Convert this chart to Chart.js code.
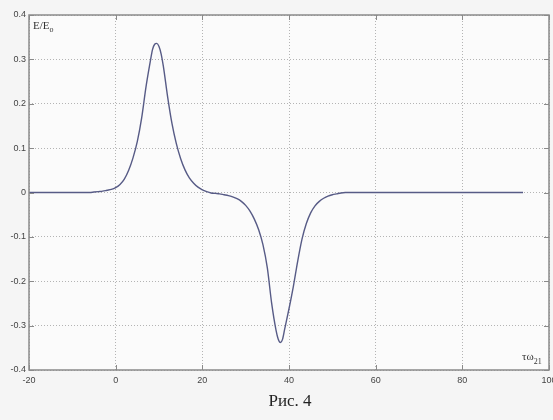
<!DOCTYPE html>
<html>
<head>
<meta charset="utf-8">
<script src="https://cdn.jsdelivr.net/npm/chart.js@4/dist/chart.umd.min.js"></script>
<style>
  html, body { margin: 0; padding: 0; background: #f5f5f5; }
  canvas { display: block; }
</style>
</head>
<body>
<canvas id="fig" width="553" height="420"></canvas>
<script>
// tau*omega21 values and field E/E0
const tau = [-20, -10, -6, -5, -4, -3, -2, -1, 0, 1, 2, 3, 4, 5, 6, 7, 8, 8.5, 9, 9.5, 10, 10.5, 11, 12, 13, 14, 15, 16, 17, 18, 19, 20, 21,
  22, 23, 24, 25, 26, 27, 28, 29, 30, 31, 32, 33, 34, 35, 36, 37, 37.5, 38, 38.5, 39, 40, 41, 42, 43, 44, 45, 46, 47, 48, 49, 50, 51, 52, 53, 60, 94];
const field = [0, 0, 0, 0.001, 0.002, 0.003, 0.005, 0.007, 0.011, 0.018, 0.030, 0.050, 0.078, 0.115, 0.168, 0.238, 0.296, 0.322, 0.334, 0.336, 0.329, 0.312, 0.285, 0.215, 0.155, 0.110, 0.076, 0.051, 0.033, 0.021, 0.012, 0.006, 0.002,
  -0.001, -0.002, -0.003, -0.005, -0.007, -0.010, -0.014, -0.020, -0.029, -0.042, -0.060, -0.084, -0.118, -0.170, -0.250, -0.310, -0.330, -0.338, -0.331, -0.308, -0.262, -0.212, -0.155, -0.105, -0.070, -0.046, -0.030, -0.020, -0.013, -0.008, -0.005, -0.003, -0.001, 0, 0, 0];

const xTicks = [-20, 0, 20, 40, 60, 80, 100];
const yTicks = [-0.4, -0.3, -0.2, -0.1, 0, 0.1, 0.2, 0.3, 0.4];

const points = tau.map((t, i) => ({ x: t, y: field[i] }));

// рамка, внутренние риски, подписи
const decor = {
  id: 'decor',
  beforeDraw(chart) {
    const { ctx, chartArea: a } = chart;
    ctx.save();
    ctx.fillStyle = '#f5f5f5';
    ctx.fillRect(0, 0, chart.width, chart.height);
    ctx.fillStyle = '#fbfbfb';
    ctx.fillRect(a.left, a.top, a.right - a.left, a.bottom - a.top);
    ctx.restore();
  },
  afterDraw(chart) {
    const { ctx, chartArea: a, scales } = chart;
    ctx.save();
    ctx.strokeStyle = '#8a8a8a';
    ctx.lineWidth = 1.5;
    ctx.strokeRect(a.left, a.top, a.right - a.left, a.bottom - a.top);
    ctx.lineWidth = 1;
    ctx.beginPath();
    xTicks.forEach(v => {
      const px = Math.round(scales.x.getPixelForValue(v)) + 0.5;
      ctx.moveTo(px, a.bottom); ctx.lineTo(px, a.bottom - 5);
      ctx.moveTo(px, a.top); ctx.lineTo(px, a.top + 5);
    });
    yTicks.forEach(v => {
      const py = Math.round(scales.y.getPixelForValue(v)) + 0.5;
      ctx.moveTo(a.left, py); ctx.lineTo(a.left + 5, py);
      ctx.moveTo(a.right, py); ctx.lineTo(a.right - 5, py);
    });
    ctx.stroke();

    ctx.fillStyle = '#333';
    ctx.textBaseline = 'alphabetic';
    ctx.font = '11px "Liberation Serif"';
    ctx.fillText('E/E', a.left + 4, a.top + 14);
    let w = ctx.measureText('E/E').width;
    ctx.font = '8px "Liberation Serif"';
    ctx.fillText('o', a.left + 4 + w, a.top + 17);

    ctx.font = '11px "Liberation Serif"';
    ctx.fillText('τω', a.right - 27, a.bottom - 10);
    w = ctx.measureText('τω').width;
    ctx.font = '8px "Liberation Serif"';
    ctx.fillText('21', a.right - 27 + w, a.bottom - 6);

    ctx.font = '17px "Liberation Serif"';
    ctx.fillStyle = '#222';
    ctx.textAlign = 'center';
    ctx.fillText('Рис. 4', 290, 406);
    ctx.restore();
  }
};

new Chart(document.getElementById('fig'), {
  type: 'line',
  data: {
    datasets: [{
      data: points,
      borderColor: '#575b86',
      borderWidth: 1.4,
      pointRadius: 0,
      cubicInterpolationMode: 'monotone',
      fill: false
    }]
  },
  options: {
    responsive: false,
    animation: false,
    maintainAspectRatio: false,
    layout: { padding: { top: 15, right: 4, left: 0, bottom: 0 } },
    plugins: { legend: { display: false }, tooltip: { enabled: false } },
    scales: {
      x: {
        type: 'linear', min: -20, max: 100,
        afterBuildTicks: s => { s.ticks = xTicks.map(v => ({ value: v })); },
        afterFit: s => { s.height = 50; s.paddingLeft = 0; s.paddingRight = 0; },
        grid: { color: '#b4b4b4', drawTicks: false },
        border: { display: false, dash: [1, 2] },
        ticks: { autoSkip: false, maxRotation: 0, padding: 5, color: '#444', font: { family: 'Liberation Sans', size: 9 } }
      },
      y: {
        min: -0.4, max: 0.4,
        afterBuildTicks: s => { s.ticks = yTicks.map(v => ({ value: v })); },
        afterFit: s => { s.width = 29; s.paddingTop = 0; s.paddingBottom = 0; },
        grid: { color: '#b4b4b4', drawTicks: false },
        border: { display: false, dash: [1, 2] },
        ticks: { autoSkip: false, padding: 3, color: '#444', font: { family: 'Liberation Sans', size: 9 },
          callback: v => (Math.abs(v) < 1e-9 ? '0' : String(Math.round(v * 10) / 10)) }
      }
    }
  },
  plugins: [decor]
});
</script>
</body>
</html>
